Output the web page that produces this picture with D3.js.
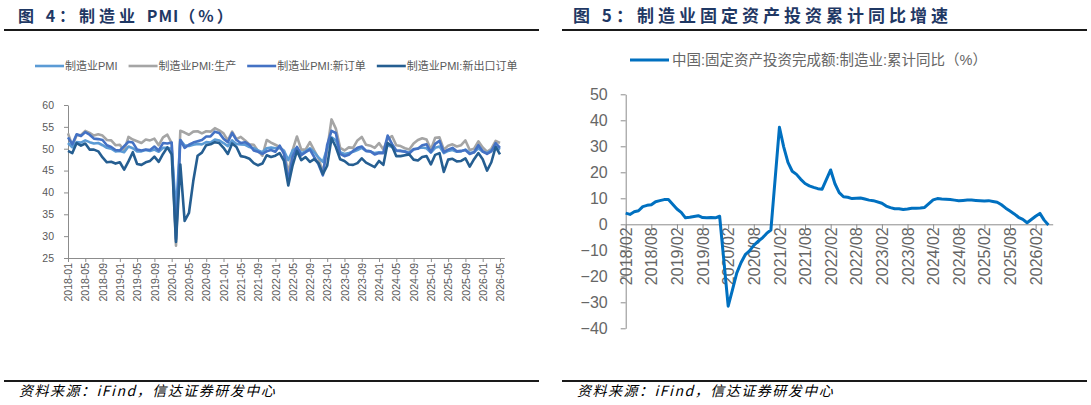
<!DOCTYPE html>
<html>
<head>
<meta charset="utf-8">
<script src="https://cdn.jsdelivr.net/npm/d3@7"></script>
<style>
  body { margin: 0; background: #fff; }
  svg { display: block; font-family: "Liberation Sans", Arial, "Noto Sans CJK SC", sans-serif; }
</style>
</head>
<body>
<svg id="chart" width="1091" height="405"></svg>
<script>
// 图4 数据: 2018-01 ~ 2026-05 月度
const pmiMonths = [];
for (let y = 2018; y <= 2026; y++) {
    for (let m = 1; m <= 12; m++) {
        if (y === 2026 && m > 5) break;
        pmiMonths.push(y + '-' + String(m).padStart(2, '0'));
    }
}
const pmi = [
    51.3, 50.3, 51.5, 51.4, 51.9, 51.5, 51.2, 51.3, 50.8, 50.2, 50.0, 49.4,
    49.5, 49.2, 50.5, 50.1, 49.4, 49.4, 49.7, 49.5, 49.8, 49.3, 50.2, 50.2,
    50.0, 35.7, 52.0, 50.8, 50.6, 50.9, 51.1, 51.0, 51.5, 51.4, 52.1, 51.9,
    51.3, 50.6, 51.9, 51.1, 51.0, 50.9, 50.4, 50.1, 49.6, 49.2, 50.1, 50.3,
    50.1, 50.2, 49.5, 47.4, 49.6, 50.2, 49.0, 49.4, 50.1, 49.2, 48.0, 47.0,
    50.1, 52.6, 51.9, 49.2, 48.8, 49.0, 49.3, 49.7, 50.2, 49.5, 49.4, 49.0,
    49.2, 49.1, 50.8, 50.4, 49.5, 49.5, 49.4, 49.1, 49.8, 50.1, 50.3, 50.1,
    49.1, 50.2, 50.5, 49.0, 49.5, 49.7, 49.3, 49.4, 49.8, 49.0, 49.2, 50.1,
    49.3, 49.0, 49.6, 50.5, 49.8
];
const pmiProduction = [
    53.5, 50.7, 53.1, 53.1, 54.1, 53.6, 53.0, 53.3, 53.0, 52.0, 51.9, 50.8,
    50.9, 49.5, 52.7, 52.1, 51.7, 51.3, 52.1, 51.9, 52.3, 50.8, 52.6, 53.2,
    51.3, 27.8, 54.1, 53.7, 53.2, 53.9, 54.0, 53.5, 54.0, 53.9, 54.7, 54.2,
    53.5, 51.9, 53.9, 52.2, 52.7, 51.9, 51.0, 50.9, 49.5, 48.4, 52.0, 51.4,
    50.9, 50.4, 49.5, 44.4, 49.7, 52.8, 49.8, 49.8, 51.5, 49.6, 47.8, 44.6,
    49.8, 56.7, 54.6, 50.2, 49.6, 50.3, 50.2, 51.9, 52.7, 50.9, 50.7, 50.2,
    51.3, 49.8, 52.2, 52.9, 50.8, 50.6, 50.1, 49.8, 51.2, 52.0, 52.4, 52.1,
    49.8, 52.5, 52.6, 49.8, 50.7, 51.0, 50.5, 50.8, 51.9, 49.7, 50.0, 51.7,
    50.3, 49.3, 50.0, 51.8, 51.3
];
const pmiNewOrders = [
    52.6, 51.0, 53.3, 52.9, 53.8, 53.2, 52.3, 52.2, 52.0, 50.8, 50.4, 49.7,
    49.6, 50.6, 51.6, 51.4, 49.8, 49.6, 49.8, 49.7, 50.5, 49.6, 51.3, 51.2,
    51.4, 29.3, 52.0, 50.2, 50.9, 51.4, 51.7, 52.0, 52.8, 52.8, 53.9, 53.6,
    52.3, 51.5, 53.6, 52.0, 51.3, 51.5, 50.9, 49.6, 49.3, 48.8, 49.4, 49.7,
    49.3, 50.7, 48.8, 42.6, 48.2, 50.4, 48.5, 49.2, 49.8, 48.1, 46.4, 43.9,
    50.9, 54.1, 53.6, 48.8, 48.3, 48.6, 49.5, 50.2, 50.5, 49.5, 49.4, 48.7,
    49.0, 49.0, 53.0, 51.1, 49.6, 49.5, 49.3, 48.9, 49.9, 50.0, 50.8, 51.0,
    49.2, 51.1, 51.8, 49.2, 49.8, 50.2, 49.4, 49.5, 49.7, 48.8, 49.2, 50.8,
    49.4, 48.8, 49.4, 51.3, 50.2
];
const pmiNewExport = [
    49.5, 49.0, 51.3, 50.7, 51.2, 49.8, 49.8, 49.4, 48.0, 46.9, 47.0, 46.6,
    46.9, 45.2, 47.1, 49.2, 46.5, 46.3, 46.9, 47.2, 48.2, 47.0, 48.8, 50.3,
    48.7, 28.7, 46.4, 33.5, 35.3, 42.6, 48.4, 49.1, 50.8, 51.0, 51.5, 51.3,
    50.2, 48.8, 51.2, 50.4, 48.3, 48.1, 47.7, 46.7, 46.2, 46.6, 48.5, 48.1,
    48.4, 49.0, 47.2, 41.6, 46.2, 49.5, 47.4, 48.1, 47.0, 47.6, 46.7, 44.2,
    46.1, 52.4, 50.4, 47.6, 47.2, 46.4, 46.3, 46.7, 47.8, 46.8, 46.3, 45.8,
    47.2, 46.3, 51.3, 50.6, 48.3, 48.3, 48.5, 48.7, 47.5, 47.3, 48.1, 48.3,
    46.4, 48.6, 49.0, 44.7, 47.5, 47.7, 47.1, 47.2, 47.8, 45.9, 47.6, 49.0,
    47.6, 45.0, 46.9, 50.4, 48.7
];
const pmiNames = ['制造业PMI', '制造业PMI:生产', '制造业PMI:新订单', '制造业PMI:新出口订单'];
const pmiColors = ['#5B9BD5', '#A5A5A5', '#4472C4', '#255E91'];
const pmiTicks = [25, 30, 35, 40, 45, 50, 55, 60];

// 图5 数据: 2018/02 ~ 2026/05, 1月无数据
const faiMonths = [];
for (let y = 2018; y <= 2026; y++) {
    for (let m = 2; m <= 12; m++) {
        if (y === 2026 && m > 5) break;
        faiMonths.push(y + '/' + String(m).padStart(2, '0'));
    }
}
const faiValues = [
    4.3, 3.8, 4.8, 5.2, 6.8, 7.3, 7.5, 8.7, 9.1, 9.5, 9.5,
    5.9, 4.6, 2.5, 2.7, 3.0, 3.3, 2.6, 2.5, 2.6, 2.5, 3.1,
    -31.5, -25.2, -18.8, -14.8, -11.7, -10.2, -8.1, -6.5, -5.3, -3.5, -2.2,
    37.3, 29.8, 23.8, 20.4, 19.2, 17.3, 15.7, 14.8, 14.2, 13.7, 13.5,
    20.9, 15.6, 12.2, 10.6, 10.4, 9.9, 10.0, 10.1, 9.7, 9.3, 9.1,
    8.1, 7.0, 6.4, 6.0, 6.0, 5.7, 5.9, 6.2, 6.2, 6.3, 6.5,
    9.4, 9.9, 9.7, 9.6, 9.5, 9.3, 9.1, 9.2, 9.3, 9.3, 9.2,
    9.0, 9.1, 8.8, 8.5, 7.5, 6.2, 5.1, 4.0, 2.7, 1.9, 0.6,
    3.1, 4.2, 1.6, -0.3
];
const faiTickLabels = [];
for (let y = 2018; y <= 2026; y++) {
    faiTickLabels.push(y + '/02');
    if (y < 2026) faiTickLabels.push(y + '/08');
}
const faiTicks = [-40, -30, -20, -10, 0, 10, 20, 30, 40, 50];

const svg = d3.select('#chart');

// 标题与上下分隔线 (parts: [文字, 字距])
function drawFrame(x0, x1, parts, tx, size) {
    const title = svg.append('text')
        .attr('x', tx).attr('y', 22)
        .attr('font-family', '"Noto Sans CJK SC", sans-serif')
        .attr('font-weight', 'bold')
        .attr('font-size', size + 'px')
        .attr('fill', '#1F3864');
    parts.forEach(p => {
        title.append('tspan').attr('letter-spacing', p[1]).text(p[0]);
    });
    svg.append('line')
        .attr('x1', x0).attr('x2', x1).attr('y1', 30).attr('y2', 30)
        .attr('stroke', '#1a1a1a').attr('stroke-width', 2);
    svg.append('line')
        .attr('x1', x0).attr('x2', x1).attr('y1', 381).attr('y2', 381)
        .attr('stroke', '#1a1a1a').attr('stroke-width', 2);
    svg.append('text')
        .attr('x', x0 + 15).attr('y', 396)
        .attr('font-family', '"Noto Sans CJK SC", serif')
        .attr('font-style', 'italic')
        .attr('font-size', '14px')
        .attr('letter-spacing', 1.5)
        .attr('fill', '#000')
        .text('资料来源：iFind，信达证券研发中心');
}
drawFrame(4, 539, [['图 4：制造业 ', 4], ['PMI', 1], ['（%）', 3]], 18, 16);
drawFrame(562, 1087, [['图 5：制造业固定资产投资累计同比增速', 4]], 573, 17);

// ---------- 图4 ----------
const x4 = d3.scaleLinear().domain([0, pmiMonths.length]).range([68, 504.3]);
const y4 = d3.scaleLinear().domain([25, 60]).range([258, 105]);

const yAxis4 = svg.append('g')
    .attr('transform', 'translate(68,0)')
    .call(d3.axisLeft(y4).tickValues(pmiTicks).tickSize(4).tickSizeOuter(0).tickPadding(10));
const xAxis4 = svg.append('g')
    .attr('transform', 'translate(0,258)')
    .call(d3.axisBottom(x4)
        .tickValues(d3.range(0, pmiMonths.length, 4))
        .tickFormat(i => pmiMonths[i])
        .tickSize(4).tickSizeOuter(0));
xAxis4.selectAll('text')
    .attr('transform', 'rotate(-90)')
    .attr('text-anchor', 'end')
    .attr('x', -5).attr('y', 0).attr('dy', '0.35em');
[yAxis4, xAxis4].forEach(g => {
    g.select('.domain').attr('stroke', '#8c8c8c');
    g.selectAll('.tick line').attr('stroke', '#8c8c8c');
    g.selectAll('text').attr('fill', '#595959').attr('font-size', '10.5px')
        .attr('font-family', '"Liberation Sans", Arial, sans-serif');
});

const pmiSeries = [pmi, pmiProduction, pmiNewOrders, pmiNewExport];
const line4 = d3.line().x((d, i) => x4(i)).y(d => y4(d));
[1, 0, 2, 3].forEach(k => {
    svg.append('path')
        .datum(pmiSeries[k])
        .attr('d', line4)
        .attr('fill', 'none')
        .attr('stroke', pmiColors[k])
        .attr('stroke-width', 2.6)
        .attr('stroke-linejoin', 'round');
});

// 图4 图例
let lx = 35;
pmiNames.forEach((name, k) => {
    svg.append('line')
        .attr('x1', lx).attr('x2', lx + 29).attr('y1', 66).attr('y2', 66)
        .attr('stroke', pmiColors[k]).attr('stroke-width', 2.6);
    const t = svg.append('text')
        .attr('x', lx + 30).attr('y', 70)
        .attr('font-size', '11px')
        .attr('fill', '#595959')
        .text(name);
    lx += 30 + t.node().getComputedTextLength() + 11;
});

// ---------- 图5 ----------
function faiIndex(label) {
    const [y, m] = label.split('/').map(Number);
    return (y - 2018) * 12 + (m - 2);
}
const x5 = d3.scaleLinear().domain([0, 100]).range([625.7, 1052.7]);
const y5 = d3.scaleLinear().domain([-40, 50]).range([328.3, 94.3]);

const yAxis5 = svg.append('g')
    .attr('transform', 'translate(625.7,0)')
    .call(d3.axisLeft(y5).tickValues(faiTicks).tickSize(5).tickSizeOuter(0).tickPadding(13));
const xAxis5 = svg.append('g')
    .attr('transform', 'translate(0,' + y5(0) + ')')
    .call(d3.axisBottom(x5)
        .tickValues(faiTickLabels.map(faiIndex))
        .tickFormat((d, i) => faiTickLabels[i])
        .tickSize(5).tickSizeOuter(0));
xAxis5.selectAll('text')
    .attr('transform', 'rotate(-90)')
    .attr('text-anchor', 'end')
    .attr('x', -3).attr('y', 0).attr('dy', '0.35em');
[yAxis5, xAxis5].forEach(g => {
    g.select('.domain').attr('stroke', '#8c8c8c');
    g.selectAll('.tick line').attr('stroke', '#8c8c8c');
    g.selectAll('text').attr('fill', '#666').attr('font-size', '16px')
        .attr('font-family', '"Liberation Sans", Arial, sans-serif');
});

const line5 = d3.line()
    .x((d, i) => x5(faiIndex(faiMonths[i])))
    .y(d => y5(d));
svg.append('path')
    .datum(faiValues)
    .attr('d', line5)
    .attr('fill', 'none')
    .attr('stroke', '#0070C0')
    .attr('stroke-width', 3)
    .attr('stroke-linejoin', 'round');

// 图5 图例
svg.append('line')
    .attr('x1', 630).attr('x2', 669).attr('y1', 60).attr('y2', 60)
    .attr('stroke', '#0070C0').attr('stroke-width', 3);
svg.append('text')
    .attr('x', 672).attr('y', 65)
    .attr('font-size', '14.5px')
    .attr('fill', '#666')
    .text('中国:固定资产投资完成额:制造业:累计同比（%）');
</script>
</body>
</html>
